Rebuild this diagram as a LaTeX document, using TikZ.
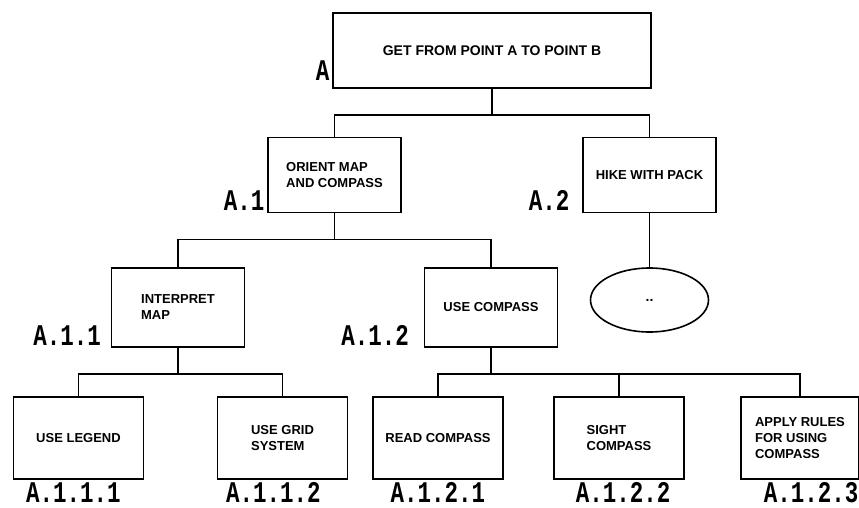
\documentclass[tikz,border=0pt]{standalone}
\usepackage{fontspec}
\setmainfont{Liberation Sans}
\newfontfamily\idfont[FakeStretch=0.75]{Liberation Mono}
\usetikzlibrary{shapes.geometric}

\tikzset{
  taskbox/.style={draw, rectangle, line width=1.6pt, align=left, inner sep=3pt,
    font=\bfseries\fontsize{13}{16}\selectfont},
  topbox/.style={taskbox, minimum width=318pt, minimum height=75pt,
    font=\bfseries\fontsize{14}{16}\selectfont},
  midbox/.style={taskbox, minimum width=133pt, minimum height=75pt},
  lowbox/.style={taskbox, minimum width=133pt, minimum height=79pt},
  leafbox/.style={taskbox, minimum width=130pt, minimum height=82pt},
  idtag/.style={font=\idfont\bfseries\fontsize{30}{30}\selectfont, inner sep=2pt},
  endoval/.style={draw, ellipse, line width=1.6pt, minimum width=118pt, minimum height=64pt,
    inner sep=0pt, font=\bfseries\fontsize{14}{14}\selectfont}
}

\begin{document}
\begin{tikzpicture}[line width=1.6pt,
    level 1/.style={level distance=124.5pt, sibling distance=315pt},
    level 2/.style={level distance=132.5pt, sibling distance=313pt},
    level 3/.style={level distance=130.5pt, sibling distance=181pt},
    edge from parent/.style={draw, line width=1.6pt},
    edge from parent path={(\tikzparentnode.south) -- ++(0,-26pt) -| (\tikzchildnode.north)}
  ]
  \useasboundingbox (0,0) rectangle (859pt,-507pt);
  \node[topbox, label={[idtag, anchor=south east, yshift=6pt]south west:A}] (a)
    at (492pt,-50.5pt) {GET FROM POINT A TO POINT B}
    child { node[midbox, label={[idtag, anchor=south east]south west:A.1}] (a1)
            {ORIENT MAP\\AND COMPASS}
      child { node[lowbox, label={[idtag, anchor=south east, xshift=-7pt]south west:A.1.1}] (a11)
              {INTERPRET\\MAP}
        child[xshift=-9pt] { node[leafbox, label={[idtag, xshift=-5pt]below:A.1.1.1}] (a111)
                {USE LEGEND} }
        child[xshift=14pt] { node[leafbox, label={[idtag, xshift=-9pt]below:A.1.1.2}] (a112)
                {USE GRID\\SYSTEM} }
      }
      child { node[lowbox, label={[idtag, anchor=south east, xshift=-12pt]south west:A.1.2}] (a12)
              {USE COMPASS}
        child[xshift=128pt] { node[leafbox, label={[idtag]below:A.1.2.1}] (a121)
                {READ COMPASS} }
        child[xshift=128pt] { node[leafbox, label={[idtag, xshift=4pt]below:A.1.2.2}] (a122)
                {SIGHT\\COMPASS} }
        child[xshift=128pt] { node[leafbox, minimum width=118pt,
                label={[idtag, xshift=11pt]below:A.1.2.3}] (a123)
                {APPLY RULES\\FOR USING\\COMPASS} }
      }
    }
    child { node[midbox, label={[idtag, anchor=south east, xshift=-10pt]south west:A.2}] (a2)
            {HIKE WITH PACK}
      child[yshift=7.5pt] { node[endoval] (a21) {..} }
    };
\end{tikzpicture}
\end{document}
